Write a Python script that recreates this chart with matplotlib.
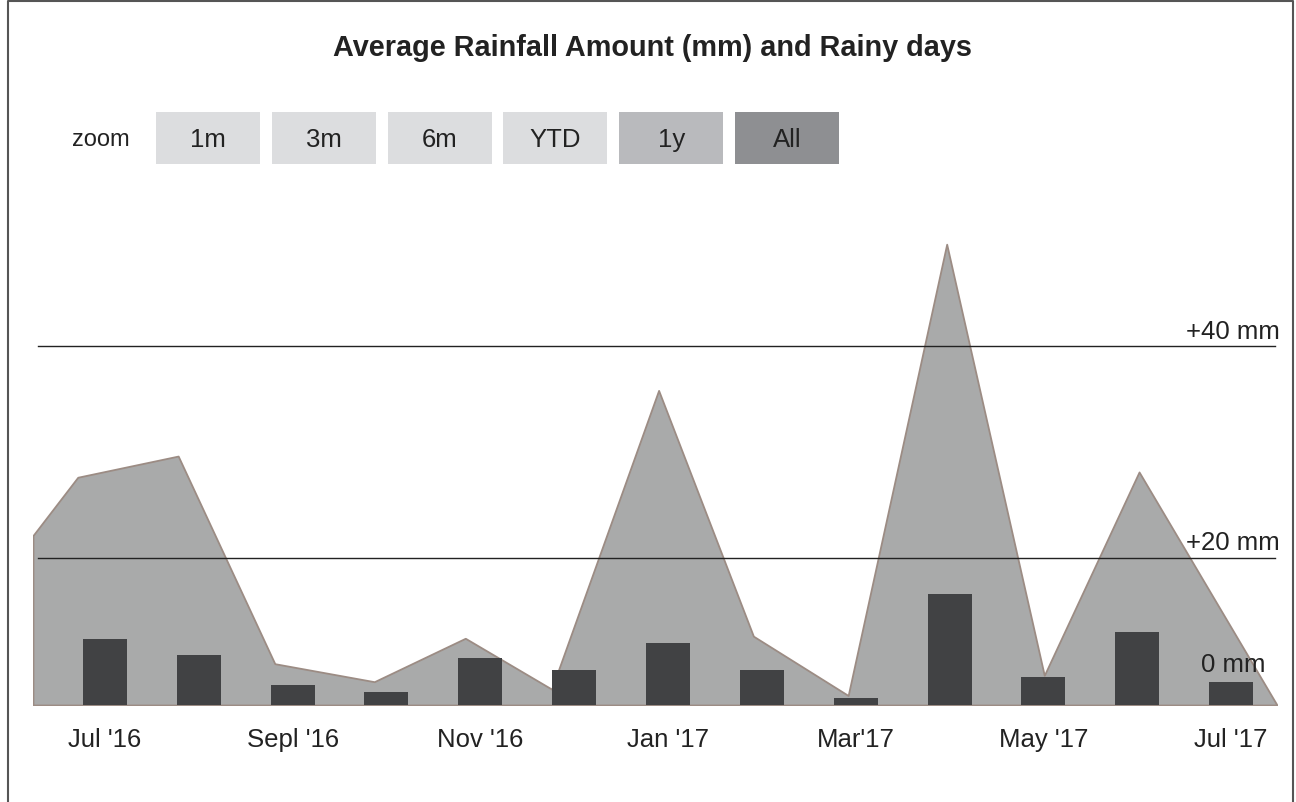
import numpy as np
import matplotlib.pyplot as plt
from matplotlib.patches import Rectangle

plt.rcParams['font.family'] = ['Liberation Sans', 'DejaVu Sans']

# monthly rainy days, Jul '16 .. Jul '17 (bar index 0..12)
months = ["Jul '16", "Aug '16", "Sepl '16", "Oct '16", "Nov '16", "Dec '16", "Jan '17",
          "Feb '17", "Mar'17", "Apr '17", "May '17", "Jun '17", "Jul '17"]
rainy_days = [12.0, 9.1, 3.6, 2.4, 8.5, 6.4, 11.3, 6.4, 1.3, 20.2, 5.1, 13.3, 4.2]

# rainfall readings (position in months from Jul '16, amount in mm)
rain_pos = [-0.767, -0.29, 0.78, 1.81, 2.87, 3.84, 4.76, 5.90, 6.91, 7.92, 8.97, 10.01, 11.02, 12.49]
rain_mm = [22.1, 27.6, 29.6, 10.0, 8.3, 12.4, 7.6, 35.8, 12.6, 7.0, 49.6, 8.9, 28.1, 6.1]

tick_pos = [0, 2, 4, 6, 8, 10, 12]
tick_labels = [months[i] for i in tick_pos]

buttons = ["1m", "3m", "6m", "YTD", "1y", "All"]
button_colors = ["#dcdddf", "#dcdddf", "#dcdddf", "#dcdddf", "#b9babd", "#8e8f92"]

W, H = 1296, 803
fig = plt.figure(figsize=(W / 100, H / 100), dpi=100)

# pixel-space layer for title, range buttons and frame
bg = fig.add_axes([0, 0, 1, 1])
bg.set_xlim(0, W)
bg.set_ylim(H, 0)
bg.axis('off')

bg.plot([8, 8, 1293, 1293], [H, 2, 2, H], color='#555555', lw=1.5)
bg.text(652, 48, "Average Rainfall Amount (mm) and Rainy days", ha='center', va='center',
        fontsize=20.8, fontweight='bold', color='#222222')
bg.text(72, 140, "zoom", ha='left', va='center', fontsize=17, color='#222222')
for i, (lab, c) in enumerate(zip(buttons, button_colors)):
    x0 = 156 + i * 115.8
    bg.add_patch(Rectangle((x0, 113), 104, 52, facecolor=c, edgecolor='none'))
    bg.text(x0 + 52, 140, lab, ha='center', va='center', fontsize=18.5, color='#222222')

# rainfall area
ax = fig.add_axes([33 / W, (H - 706) / H, 1244 / W, 491 / H])
ax.fill_between(rain_pos, rain_mm, 6.1, facecolor='#a9aaaa', edgecolor='#9c8c84', lw=1.3, zorder=1)
ax.set_xlim(-0.767, 12.49)
ax.set_ylim(6.1, 52.45)
for v in (20, 40):
    ax.axhline(v, xmin=5 / 1244, xmax=1242 / 1244, color='#222222', lw=1, zorder=2)
    ax.annotate(f"+{v} mm", xy=(1.0, v), xycoords=('axes fraction', 'data'),
                xytext=(2, 6), textcoords='offset points', ha='right', va='baseline',
                fontsize=18.5, color='#222222')
ax.annotate("0 mm", xy=(1.0, 0), xycoords='axes fraction', xytext=(-8.5, 24.5),
            textcoords='offset points', ha='right', va='baseline', fontsize=18.5, color='#222222')
ax.set_yticks([])
ax.set_xticks(tick_pos)
ax.set_xticklabels(tick_labels, fontsize=18.5, color='#222222')
ax.tick_params(axis='x', length=0, pad=15.5)
for s in ax.spines.values():
    s.set_visible(False)
ax.patch.set_visible(False)

# rainy days bars on their own scale
ax2 = ax.twinx()
ax2.bar(range(len(rainy_days)), rainy_days, width=0.469, color='#414244', zorder=3)
ax2.set_ylim(0, 89.3)
ax2.set_yticks([])
for s in ax2.spines.values():
    s.set_visible(False)

fig.savefig('out.png', dpi=100)
